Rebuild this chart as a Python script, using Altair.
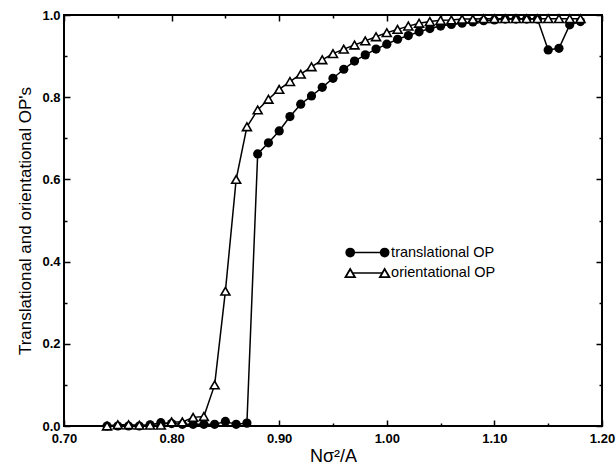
import altair as alt
import pandas as pd

# ---------------- data ----------------
density = [0.74, 0.75, 0.76, 0.77, 0.78, 0.79, 0.80, 0.81, 0.82, 0.83,
           0.84, 0.85, 0.86, 0.87, 0.88, 0.89, 0.90, 0.91, 0.92, 0.93,
           0.94, 0.95, 0.96, 0.97, 0.98, 0.99, 1.00, 1.01, 1.02, 1.03,
           1.04, 1.05, 1.06, 1.07, 1.08, 1.09, 1.10, 1.11, 1.12, 1.13,
           1.14, 1.15, 1.16, 1.17, 1.18]

translational = [0.000, 0.000, 0.000, 0.000, 0.003, 0.008, 0.006, 0.004, 0.004, 0.004,
                 0.004, 0.011, 0.004, 0.007, 0.662, 0.689, 0.718, 0.753, 0.783, 0.803,
                 0.824, 0.846, 0.868, 0.888, 0.903, 0.917, 0.929, 0.941, 0.950, 0.959,
                 0.967, 0.973, 0.977, 0.980, 0.983, 0.986, 0.988, 0.990, 0.990, 0.990,
                 0.990, 0.915, 0.919, 0.976, 0.984]

orientational = [0.000, 0.003, 0.003, 0.002, 0.002, 0.002, 0.010, 0.010, 0.021, 0.023,
                 0.100, 0.328, 0.600, 0.728, 0.769, 0.795, 0.819, 0.838, 0.856, 0.874,
                 0.891, 0.906, 0.917, 0.927, 0.937, 0.947, 0.957, 0.965, 0.973, 0.980,
                 0.984, 0.987, 0.988, 0.990, 0.990, 0.991, 0.991, 0.991, 0.991, 0.991,
                 0.991, 0.991, 0.991, 0.991, 0.991]

series_names = ["translational OP", "orientational OP"]

x_major = [0.70, 0.80, 0.90, 1.00, 1.10, 1.20]
x_minor = [0.75, 0.85, 0.95, 1.05, 1.15]
y_major = [0.0, 0.2, 0.4, 0.6, 0.8, 1.0]
y_minor = [0.1, 0.3, 0.5, 0.7, 0.9]

# ---------------- tables ----------------
df_t = pd.DataFrame({"x": density, "y": translational})
df_o = pd.DataFrame({"x": density, "y": orientational})

# legend placed inside the plot (data coordinates)
leg_x0, leg_x1, leg_tx = 0.966, 0.998, 1.004
leg_y = [0.422, 0.372]
leg_pts = pd.DataFrame({
    "series": [series_names[0], series_names[0], series_names[1], series_names[1]],
    "x": [leg_x0, leg_x1, leg_x0, leg_x1],
    "y": [leg_y[0], leg_y[0], leg_y[1], leg_y[1]],
})
leg_txt = pd.DataFrame({"series": series_names, "x": [leg_tx, leg_tx], "y": leg_y})

FONT = "Liberation Sans"
xs = alt.Scale(domain=[0.70, 1.20], nice=False, zero=False)
ys = alt.Scale(domain=[0.0, 1.0], nice=False, zero=False)

MAJ, MIN = 6, 3
common = dict(domain=False, grid=False, tickColor="black", tickWidth=1.5)

bottom_major = alt.Axis(orient="bottom", values=x_major, format=".2f", tickSize=MAJ, offset=-MAJ,
                        labelFont=FONT, labelFontSize=13, labelFontWeight="bold", labelColor="black",
                        labelPadding=6, labelFlush=False, labelOverlap=False,
                        title="Nσ²/A", titleFont=FONT, titleFontSize=18, titleFontWeight="normal",
                        titleColor="black", titlePadding=2, **common)
bottom_minor = alt.Axis(orient="bottom", values=x_minor, labels=False, tickSize=MIN, offset=-MIN,
                        title=None, **common)
top_major = alt.Axis(orient="top", values=x_major, labels=False, tickSize=MAJ, offset=-MAJ,
                     title=None, **common)
top_minor = alt.Axis(orient="top", values=x_minor, labels=False, tickSize=MIN, offset=-MIN,
                     title=None, **common)
left_major = alt.Axis(orient="left", values=y_major, format=".1f", tickSize=MAJ, offset=-MAJ,
                      labelFont=FONT, labelFontSize=13, labelFontWeight="bold", labelColor="black",
                      labelPadding=4, labelFlush=False, labelOverlap=False,
                      title="Translational and orientational OP's", titleFont=FONT, titleFontSize=17,
                      titleFontWeight="normal", titleColor="black", titlePadding=7, **common)
left_minor = alt.Axis(orient="left", values=y_minor, labels=False, tickSize=MIN, offset=-MIN,
                      title=None, **common)
right_major = alt.Axis(orient="right", values=y_major, labels=False, tickSize=MAJ, offset=-MAJ,
                       title=None, **common)
right_minor = alt.Axis(orient="right", values=y_minor, labels=False, tickSize=MIN, offset=-MIN,
                       title=None, **common)

trans_line = alt.Chart(df_t).mark_line(color="black", strokeWidth=1.5).encode(
    x=alt.X("x:Q", scale=xs, axis=bottom_major),
    y=alt.Y("y:Q", scale=ys, axis=left_major),
)
trans_pts = alt.Chart(df_t).mark_point(shape="circle", filled=True, color="black", size=85, opacity=1).encode(
    x=alt.X("x:Q", scale=xs, axis=bottom_minor),
    y=alt.Y("y:Q", scale=ys, axis=left_minor),
)
orient_line = alt.Chart(df_o).mark_line(color="black", strokeWidth=1.5).encode(
    x=alt.X("x:Q", scale=xs, axis=top_major),
    y=alt.Y("y:Q", scale=ys, axis=right_major),
)
orient_pts = alt.Chart(df_o).mark_point(shape="triangle-up", filled=True, fill="white", stroke="black",
                                        strokeWidth=1.6, size=80, opacity=1).encode(
    x=alt.X("x:Q", scale=xs, axis=top_minor),
    y=alt.Y("y:Q", scale=ys, axis=right_minor),
)

leg_line = alt.Chart(leg_pts).mark_line(color="black", strokeWidth=1.5).encode(
    x=alt.X("x:Q", scale=xs, axis=None),
    y=alt.Y("y:Q", scale=ys, axis=None),
    detail="series:N",
)
leg_circ = alt.Chart(leg_pts).transform_filter(
    alt.datum.series == series_names[0]
).mark_point(shape="circle", filled=True, color="black", size=95, opacity=1).encode(
    x=alt.X("x:Q", scale=xs, axis=None),
    y=alt.Y("y:Q", scale=ys, axis=None),
)
leg_tri = alt.Chart(leg_pts).transform_filter(
    alt.datum.series == series_names[1]
).mark_point(shape="triangle-up", filled=True, fill="white", stroke="black", strokeWidth=1.8,
             size=90, opacity=1).encode(
    x=alt.X("x:Q", scale=xs, axis=None),
    y=alt.Y("y:Q", scale=ys, axis=None),
)
leg_text = alt.Chart(leg_txt).mark_text(align="left", baseline="middle", font=FONT, fontSize=14.5,
                                        color="black").encode(
    x=alt.X("x:Q", scale=xs, axis=None),
    y=alt.Y("y:Q", scale=ys, axis=None),
    text="series:N",
)

chart = alt.layer(
    trans_line, trans_pts, orient_line, orient_pts, leg_line, leg_circ, leg_tri, leg_text
).resolve_axis(
    x="independent", y="independent"
).properties(
    width=538, height=411,
    autosize=alt.AutoSizeParams(type="none"),
    padding={"left": 64, "top": 15, "right": 14, "bottom": 39},
    background="white",
).configure_view(
    stroke="black", strokeWidth=2
)

chart.save("out.html", embed_options={"renderer": "svg", "actions": False})
